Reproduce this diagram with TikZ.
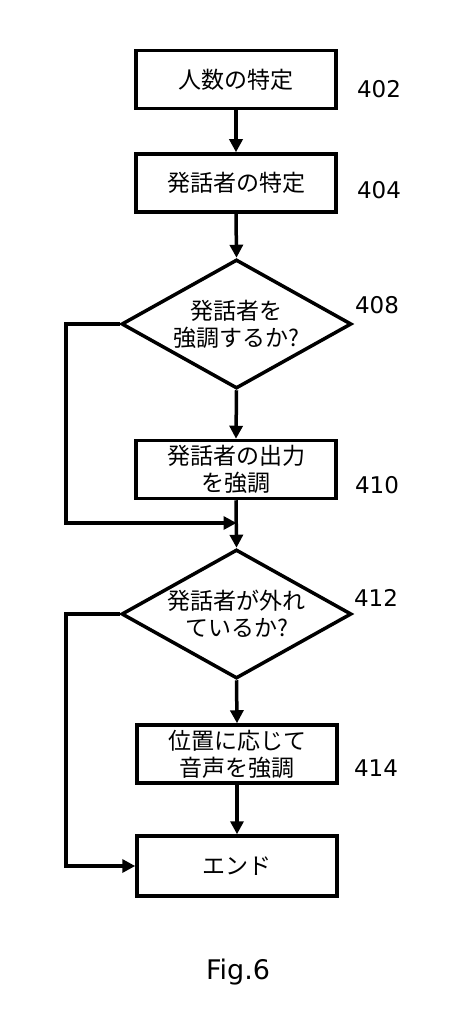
\documentclass[tikz,border=0pt]{standalone}
\usepackage{fontspec}
\newfontfamily\cjk{Noto Sans CJK JP}
\newfontfamily\numf{DejaVu Sans}
\usetikzlibrary{shapes.geometric,arrows.meta}
\begin{document}
\begin{tikzpicture}[x=1pt,y=-1pt,
  line width=3.5pt,
  every node/.style={inner sep=0pt},
  txt/.style={align=center, font={\cjk\fontsize{23}{27}\selectfont}},
  proc/.style={draw, rectangle, minimum width=200pt, minimum height=58pt, txt},
  dec/.style={draw, diamond, minimum width=230pt, minimum height=129pt},
  lbl/.style={font={\numf\fontsize{23}{27}\selectfont}},
  flow/.style={-{Triangle[length=13pt,width=13pt]}, line width=3.5pt}
]
\useasboundingbox (0,0) rectangle (456,1024);
\node[proc] (b402) at (236,79.5) {人数の特定};
\node[proc] (b404) at (236,183) {発話者の特定};
\node[dec, label={[txt]center:{発話者を\\強調するか?}}] (d408) at (236.5,324) {};
\node[proc] (b410) at (236,469.5) {発話者の出力\\を強調};
\node[dec, label={[txt]center:{発話者が外れ\\ているか?}}] (d412) at (236.5,614) {};
\node[proc] (b414) at (237,754) {位置に応じて\\音声を強調};
\node[proc, minimum height=60pt] (bend) at (237,866) {エンド};

\node[lbl] (n402) at (379,89) {402};
\node[lbl] (n404) at (379,190) {404};
\node[lbl] (n408) at (377,305) {408};
\node[lbl] (n410) at (377,485) {410};
\node[lbl] (n412) at (376,598) {412};
\node[lbl] (n414) at (376,768) {414};
\node[font={\numf\fontsize{27}{30}\selectfont}] (fig) at (238,972) {Fig.6};

\coordinate (l1) at (66,324);
\coordinate (m1) at (236.5,523);
\coordinate (l2) at (66,614);

\draw[flow] (b402.south) -- (b404.north);
\draw[flow] (b404.south) -- (d408.north);
\draw[flow] (d408.south) -- (b410.north);
\draw[flow] (b410.south) -- (d412.north);
\draw[flow] (d408.west) -- (l1) |- (m1);
\draw[flow] (d412.south) -- (b414.north);
\draw[flow] (b414.south) -- (bend.north);
\draw[flow] (d412.west) -- (l2) |- (bend.west);
\end{tikzpicture}
\end{document}
